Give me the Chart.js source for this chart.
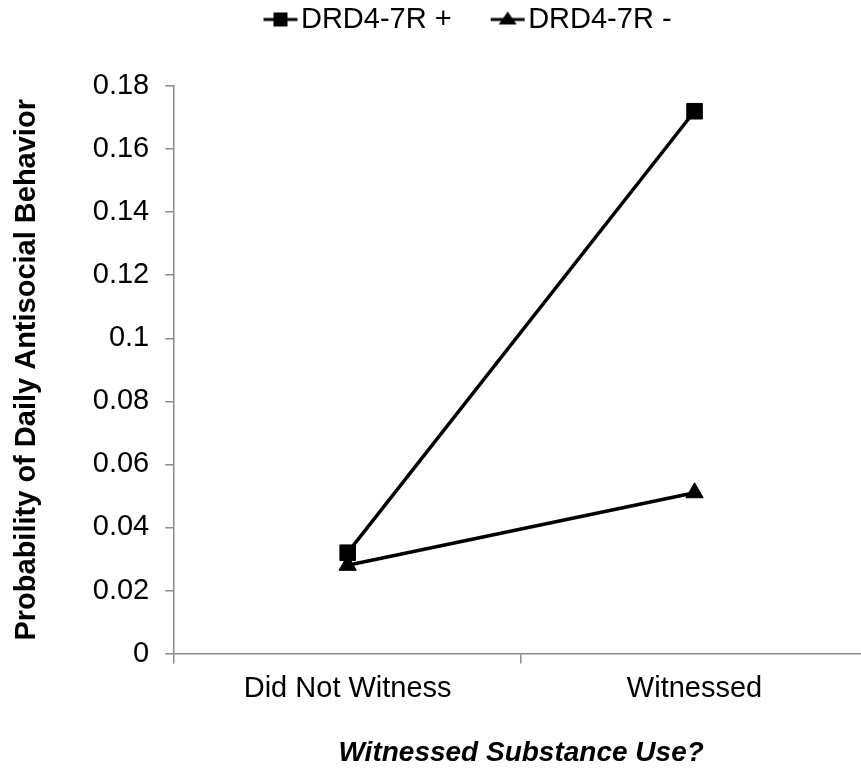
<!DOCTYPE html>
<html>
<head>
<meta charset="utf-8">
<script src="https://cdn.jsdelivr.net/npm/chart.js@4"></script>
<style>
  body { margin: 0; background: #fff; overflow: hidden; }
  #wrap { width: 861px; height: 770px; overflow: hidden; }
</style>
</head>
<body>
<div id="wrap"><canvas id="chart" width="880" height="770"></canvas></div>
<script>
const categories = ['Did Not Witness', 'Witnessed'];
const drdPlus = [0.032, 0.172];
const drdMinus = [0.028, 0.051];
const yTicks = [0, 0.02, 0.04, 0.06, 0.08, 0.1, 0.12, 0.14, 0.16, 0.18];

const FONT = 'Liberation Sans, Arial, sans-serif';
const LEGEND_DX = 28;
const LEGEND_DY = -42;

// legend swatch: short line with marker in the middle
const makeSwatch = (style) => {
    const c = document.createElement('canvas');
    c.width = 36; c.height = 20;
    const g = c.getContext('2d');
    g.strokeStyle = '#000'; g.fillStyle = '#000'; g.lineWidth = 3;
    g.beginPath(); g.moveTo(1, 10); g.lineTo(35, 10); g.stroke();
    if (style === 'rect') {
        g.fillRect(11, 3, 14, 14);
    } else {
        g.beginPath(); g.moveTo(18, 2); g.lineTo(27, 15); g.lineTo(9, 15); g.closePath(); g.fill();
    }
    return c;
};

// move the legend box after layout (Excel puts it tight to the top)
const legendShift = {
    id: 'legendShift',
    afterLayout(chart) {
        const lg = chart.legend;
        lg.left += LEGEND_DX; lg.right += LEGEND_DX;
        lg.top += LEGEND_DY; lg.bottom += LEGEND_DY;
    }
};

const ctx = document.getElementById('chart').getContext('2d');
new Chart(ctx, {
    type: 'line',
    data: {
        labels: categories,
        datasets: [{
            label: 'DRD4-7R +',
            data: drdPlus,
            borderColor: '#000',
            backgroundColor: '#000',
            borderWidth: 3.5,
            pointStyle: 'rect',
            pointRadius: 11,
            pointHoverRadius: 11,
            pointBorderWidth: 1,
            tension: 0
        }, {
            label: 'DRD4-7R -',
            data: drdMinus,
            borderColor: '#000',
            backgroundColor: '#000',
            borderWidth: 3.5,
            pointStyle: 'triangle',
            pointRadius: 10,
            pointHoverRadius: 10,
            pointBorderWidth: 1,
            tension: 0
        }]
    },
    plugins: [legendShift],
    options: {
        responsive: false,
        animation: false,
        layout: { padding: { top: -3, right: 0, bottom: 0, left: 10 } },
        plugins: {
            tooltip: { enabled: false },
            legend: {
                position: 'top',
                labels: {
                    color: '#000',
                    font: { family: FONT, size: 29 },
                    usePointStyle: true,
                    pointStyleWidth: 12,
                    boxHeight: 20,
                    padding: 50,
                    generateLabels: (chart) => chart.data.datasets.map((ds, i) => ({
                        text: ds.label,
                        pointStyle: makeSwatch(i === 0 ? 'rect' : 'triangle'),
                        fontColor: '#000',
                        datasetIndex: i
                    }))
                }
            }
        },
        scales: {
            x: {
                offset: true,
                grid: { offset: true, drawOnChartArea: false, color: '#8c8c8c', tickLength: 10, lineWidth: 1.5 },
                border: { color: '#8c8c8c', width: 1.5 },
                ticks: { color: '#000', font: { family: FONT, size: 29 }, padding: 8 },
                title: {
                    display: true,
                    text: 'Witnessed Substance Use?',
                    color: '#000',
                    font: { family: FONT, size: 28, weight: 'bold', style: 'italic' },
                    padding: { top: 22, bottom: 0 }
                }
            },
            y: {
                min: 0,
                max: 0.18,
                afterBuildTicks: (axis) => { axis.ticks = yTicks.map(v => ({ value: v })); },
                grid: { drawOnChartArea: false, color: '#8c8c8c', tickLength: 9, lineWidth: 1.5 },
                border: { color: '#8c8c8c', width: 1.5 },
                ticks: {
                    color: '#000',
                    font: { family: FONT, size: 29 },
                    padding: 16,
                    callback: (v) => String(+v.toFixed(2))
                },
                title: {
                    display: true,
                    text: 'Probability of Daily Antisocial Behavior',
                    color: '#000',
                    font: { family: FONT, size: 29, weight: 'bold' },
                    padding: { top: 0, bottom: 32 }
                }
            }
        }
    }
});
</script>
</body>
</html>
